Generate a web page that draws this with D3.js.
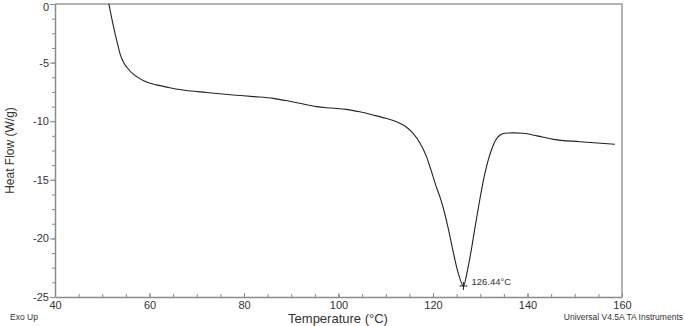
<!DOCTYPE html>
<html>
<head>
<meta charset="utf-8">
<script src="https://cdn.jsdelivr.net/npm/d3@7"></script>
<style>
  body { margin: 0; background: #fff; }
  svg { display: block; font-family: "Liberation Sans", Arial, sans-serif; }
  .axis path, .axis line { stroke: #8a8a8a; }
  .axis text { fill: #333; font-size: 11px; }
</style>
</head>
<body>
<div class="container"></div>
<script>
// DSC trace
var temps = [51.4, 52.0, 52.7, 53.3, 53.8, 54.4, 55.2, 56.2, 57.3, 59.0, 61.5, 64.0, 67.1, 72.0, 77.7, 82.0, 86.2, 89.7, 91.8, 95.3, 98.5, 101.7, 104.5, 107.3, 110.0, 112.3, 114.2, 115.8, 117.3, 118.6, 119.6, 120.7, 121.5, 122.1, 123.2, 124.2, 125.3, 126.44, 127.3, 128.1, 129.0, 129.9, 130.8, 131.7, 132.6, 133.5, 134.3, 135.2, 137.0, 139.1, 142.0, 145.5, 151.1, 158.5];
var heatFlow = [0, -1.2, -2.5, -3.5, -4.3, -4.9, -5.4, -5.85, -6.2, -6.6, -6.9, -7.12, -7.34, -7.55, -7.76, -7.9, -8.05, -8.3, -8.47, -8.76, -8.88, -8.99, -9.2, -9.47, -9.75, -10.04, -10.45, -11.03, -11.9, -13.0, -14.2, -15.6, -16.5, -17.3, -19.1, -21.0, -22.9, -24.06, -22.7, -21.0, -18.8, -16.7, -14.8, -13.3, -12.2, -11.46, -11.15, -11.03, -11.0, -11.03, -11.25, -11.55, -11.75, -11.97];

var xTicks = [40, 60, 80, 100, 120, 140, 160];
var yTicks = [0, -5, -10, -15, -20, -25];
var peak = {t: 126.44, hf: -24.06, label: "126.44°C"};

const WIDTH = 685;
const HEIGHT = 326;
const LEFT = 55, RIGHT = 622, TOP = 4, BOTTOM = 297;

var translate = function(x, y){
	return "translate(" + x + "," + y + ")";
};

var svg = d3.select('.container').append('svg')
	.attr('width', WIDTH)
	.attr('height', HEIGHT);

var xScale = d3.scaleLinear().domain([40, 160]).range([LEFT, RIGHT]);
var yScale = d3.scaleLinear().domain([-25, 0]).range([BOTTOM, TOP]);

// frame (top + right)
svg.append('path')
	.attr('d', 'M' + LEFT + ',' + TOP + 'H' + RIGHT + 'V' + BOTTOM)
	.attr('fill', 'none')
	.attr('stroke', '#9a9a9a')
	.attr('stroke-width', 1.5);

// minor ticks
svg.append('g')
	.attr('class', 'axis')
	.attr('transform', translate(0, BOTTOM))
	.call(d3.axisBottom(xScale).tickValues(d3.range(40, 160.1, 5)).tickSize(-3).tickFormat(''))
	.call(function(g){ g.select('.domain').remove(); });

svg.append('g')
	.attr('class', 'axis')
	.attr('transform', translate(LEFT, 0))
	.call(d3.axisLeft(yScale).tickValues(d3.range(-25, 0.01, 1.25)).tickSize(3).tickFormat(''))
	.call(function(g){ g.select('.domain').remove(); });

// major axes
var xAxis = svg.append('g')
	.attr('class', 'axis')
	.attr('transform', translate(0, BOTTOM))
	.call(d3.axisBottom(xScale).tickValues(xTicks).tickSize(-4).tickSizeOuter(0).tickPadding(4));
xAxis.select('.domain').attr('stroke-width', 1.5);

var yAxis = svg.append('g')
	.attr('class', 'axis')
	.attr('transform', translate(LEFT, 0))
	.call(d3.axisLeft(yScale).tickValues(yTicks).tickSize(5).tickSizeOuter(0).tickPadding(1)
		.tickFormat(function(d){ return d3.format('d')(d).replace('−', '-'); }));
yAxis.select('.domain').attr('stroke-width', 1.5);
// keep the top label inside the page
yAxis.selectAll('.tick text').filter(function(d){ return d === 0; }).attr('dy', '0.55em');

// trace
var line = d3.line()
	.x(function(d, i){ return xScale(temps[i]); })
	.y(function(d){ return yScale(d); })
	.curve(d3.curveMonotoneX);

svg.append('path')
	.attr('d', line(heatFlow))
	.attr('fill', 'none')
	.attr('stroke', '#222')
	.attr('stroke-width', 1.1);

// peak marker
var px = xScale(peak.t), py = yScale(peak.hf);
svg.append('path')
	.attr('d', 'M' + (px - 4) + ',' + py + 'H' + (px + 4) + 'M' + px + ',' + (py - 4) + 'V' + (py + 4))
	.attr('stroke', '#222')
	.attr('stroke-width', 1);
svg.append('text')
	.attr('x', px + 8)
	.attr('y', py - 1)
	.attr('font-size', 9.5)
	.attr('fill', '#333')
	.text(peak.label);

// titles
svg.append('text')
	.attr('transform', translate(14, (TOP + BOTTOM) / 2) + ' rotate(-90)')
	.attr('text-anchor', 'middle')
	.attr('font-size', 12)
	.attr('fill', '#333')
	.text('Heat Flow (W/g)');

svg.append('text')
	.attr('x', 338)
	.attr('y', 323)
	.attr('text-anchor', 'middle')
	.attr('font-size', 13)
	.attr('fill', '#333')
	.text('Temperature (°C)');

svg.append('text')
	.attr('x', 10)
	.attr('y', 320)
	.attr('font-size', 8.5)
	.attr('fill', '#333')
	.text('Exo Up');

svg.append('text')
	.attr('x', 683)
	.attr('y', 320)
	.attr('text-anchor', 'end')
	.attr('font-size', 8.5)
	.attr('fill', '#333')
	.text('Universal V4.5A TA Instruments');
</script>
</body>
</html>
